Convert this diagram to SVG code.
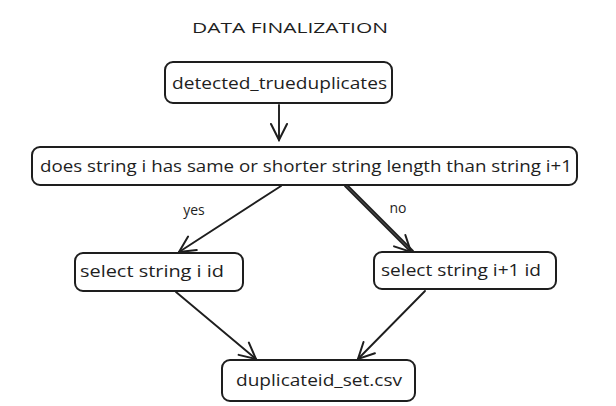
<svg xmlns="http://www.w3.org/2000/svg" width="616" height="406" viewBox="0 0 616 406">
<defs>
<style>
.box{fill:#fff;stroke:#1e1e1e;stroke-width:2}
.t{font-family:"Open Sans","Liberation Sans",sans-serif;font-size:16px;fill:#1e1e1e}
.lbl{font-family:"Open Sans","Liberation Sans",sans-serif;font-size:14px;fill:#1e1e1e}
.c{fill:none;stroke:#1e1e1e;stroke-width:1.9;stroke-linecap:round}
</style>
<marker id="ah" viewBox="0 0 20 20" refX="18" refY="10" markerWidth="20" markerHeight="20" markerUnits="userSpaceOnUse" orient="auto">
<path d="M2,2 L18,10 L2,18" fill="none" stroke="#1e1e1e" stroke-width="2" stroke-linecap="round"/>
</marker>
</defs>
<rect width="616" height="406" fill="#fff"/>
<text class="lbl" x="290" y="33" font-size="15" text-anchor="middle" textLength="196" lengthAdjust="spacingAndGlyphs">DATA FINALIZATION</text>
<g id="connectors">
<path class="c" d="M279,105 L279,140" marker-end="url(#ah)"/>
<path class="c" d="M281,186 L179,252" marker-end="url(#ah)"/>
<path class="c" d="M345,186 L411,252" marker-end="url(#ah)"/>
<path class="c" d="M347,185 L413,251" stroke-width="1.2"/>
<path class="c" d="M176,292 L256,359" marker-end="url(#ah)"/>
<path class="c" d="M425,291 L358,359" marker-end="url(#ah)"/>
<text class="lbl" x="194" y="215" text-anchor="middle">yes</text>
<text class="lbl" x="398" y="213" text-anchor="middle">no</text>
</g>
<g id="n1">
<rect class="box" x="165" y="62" width="227" height="41" rx="8"/>
<text class="t" x="279.5" y="89" text-anchor="middle" textLength="215" lengthAdjust="spacingAndGlyphs">detected_trueduplicates</text>
</g>
<g id="n2">
<rect class="box" x="32" y="147" width="545" height="38" rx="8"/>
<text class="t" x="306" y="172" text-anchor="middle" textLength="532" lengthAdjust="spacingAndGlyphs">does string i has same or shorter string length than string i+1</text>
</g>
<g id="n3">
<rect class="box" x="75" y="253" width="168" height="38" rx="8"/>
<text class="t" x="152" y="277" text-anchor="middle" textLength="144" lengthAdjust="spacingAndGlyphs">select string i id</text>
</g>
<g id="n4">
<rect class="box" x="374" y="252" width="182" height="37" rx="8"/>
<text class="t" x="461" y="276" text-anchor="middle" textLength="160" lengthAdjust="spacingAndGlyphs">select string i+1 id</text>
</g>
<g id="n5">
<rect class="box" x="222" y="360" width="193" height="41" rx="8"/>
<text class="t" x="319" y="386" text-anchor="middle" textLength="166" lengthAdjust="spacingAndGlyphs">duplicateid_set.csv</text>
</g>
</svg>
